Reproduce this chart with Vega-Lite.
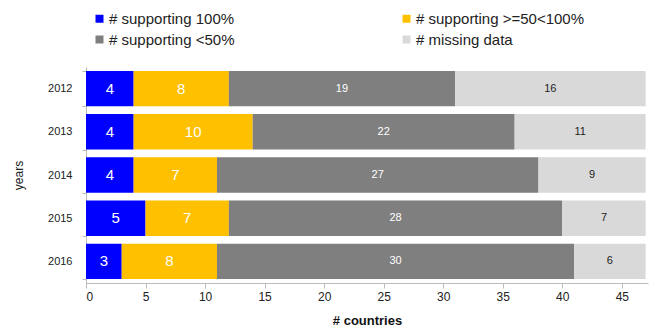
{
  "$schema": "https://vega.github.io/schema/vega-lite/v6.json",
  "autosize": {"type": "none"},
  "padding": {"left": 86, "top": 67, "right": 20, "bottom": 46},
  "width": 562,
  "height": 216,
  "background": "white",
  "config": {"view": {"stroke": null}, "font": "Liberation Sans"},
  "data": {"values": [
    {"year": "2012", "category": "# supporting 100%", "ord": 1, "n": 4},
    {"year": "2012", "category": "# supporting >=50<100%", "ord": 2, "n": 8},
    {"year": "2012", "category": "# supporting <50%", "ord": 3, "n": 19},
    {"year": "2012", "category": "# missing data", "ord": 4, "n": 16},
    {"year": "2013", "category": "# supporting 100%", "ord": 1, "n": 4},
    {"year": "2013", "category": "# supporting >=50<100%", "ord": 2, "n": 10},
    {"year": "2013", "category": "# supporting <50%", "ord": 3, "n": 22},
    {"year": "2013", "category": "# missing data", "ord": 4, "n": 11},
    {"year": "2014", "category": "# supporting 100%", "ord": 1, "n": 4},
    {"year": "2014", "category": "# supporting >=50<100%", "ord": 2, "n": 7},
    {"year": "2014", "category": "# supporting <50%", "ord": 3, "n": 27},
    {"year": "2014", "category": "# missing data", "ord": 4, "n": 9},
    {"year": "2015", "category": "# supporting 100%", "ord": 1, "n": 5},
    {"year": "2015", "category": "# supporting >=50<100%", "ord": 2, "n": 7},
    {"year": "2015", "category": "# supporting <50%", "ord": 3, "n": 28},
    {"year": "2015", "category": "# missing data", "ord": 4, "n": 7},
    {"year": "2016", "category": "# supporting 100%", "ord": 1, "n": 3},
    {"year": "2016", "category": "# supporting >=50<100%", "ord": 2, "n": 8},
    {"year": "2016", "category": "# supporting <50%", "ord": 3, "n": 30},
    {"year": "2016", "category": "# missing data", "ord": 4, "n": 6}
  ]},
  "transform": [
    {"stack": "n", "groupby": ["year"], "sort": [{"field": "ord"}], "as": ["x0", "x1"]},
    {"calculate": "(datum.x0 + datum.x1) / 2", "as": "xm"}
  ],
  "encoding": {
    "y": {
      "field": "year", "type": "nominal", "title": "years",
      "scale": {"paddingInner": 0.18, "paddingOuter": 0.09},
      "axis": {
        "domainColor": "#bbbbbb", "tickColor": "#bbbbbb", "tickBand": "extent", "tickSize": 4,
        "labelFontSize": 11, "labelColor": "#222", "labelPadding": 10,
        "titleFontSize": 12, "titleFontWeight": "normal", "titleColor": "#222", "titlePadding": 22
      }
    }
  },
  "layer": [
    {
      "mark": {"type": "bar"},
      "encoding": {
        "x": {
          "field": "x0", "type": "quantitative", "title": "# countries",
          "scale": {"domain": [0, 47.2], "nice": false},
          "axis": {
            "values": [0, 5, 10, 15, 20, 25, 30, 35, 40, 45], "grid": false,
            "domainColor": "#bbbbbb", "tickColor": "#bbbbbb", "tickSize": 5,
            "labelFontSize": 12, "labelColor": "#222", "labelPadding": 3,
            "titleFontSize": 13, "titleFontWeight": "bold", "titleColor": "#111", "titlePadding": 12
          }
        },
        "x2": {"field": "x1"},
        "color": {
          "field": "category", "type": "nominal",
          "scale": {
            "domain": ["# supporting 100%", "# supporting >=50<100%", "# supporting <50%", "# missing data"],
            "range": ["#0000ff", "#ffc000", "#7f7f7f", "#d9d9d9"]
          },
          "legend": {
            "title": null, "orient": "none", "legendX": 6, "legendY": -56, "direction": "horizontal",
            "columns": 2, "symbolType": "square", "symbolSize": 64, "symbolStrokeWidth": 0,
            "labelFontSize": 15, "labelColor": "#222", "labelOffset": 2, "labelLimit": 400,
            "columnPadding": 164, "rowPadding": 5
          }
        }
      }
    },
    {
      "mark": {"type": "text", "align": "center", "baseline": "middle"},
      "encoding": {
        "x": {"field": "xm", "type": "quantitative"},
        "text": {"field": "n", "type": "quantitative"},
        "color": {"condition": {"test": "datum.ord === 4", "value": "#222222"}, "value": "white"},
        "size": {"condition": {"test": "datum.ord <= 2", "value": 15}, "value": 11}
      }
    }
  ]
}
